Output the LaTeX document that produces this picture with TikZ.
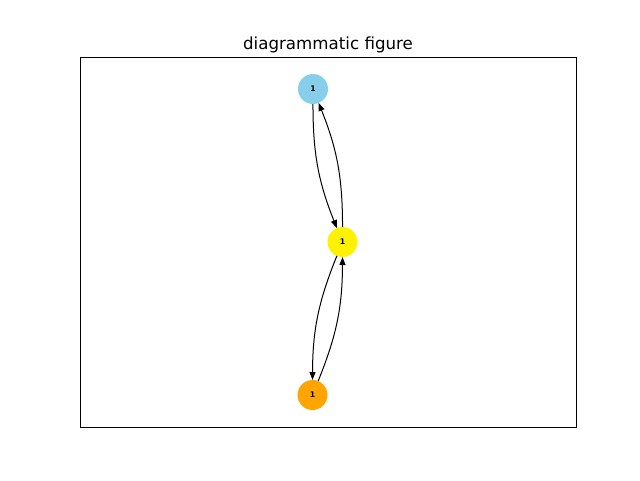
\documentclass[tikz,border=0pt]{standalone}
\usepackage{fontspec}
\setmainfont{DejaVu Sans}
\usepackage{xcolor}
\usetikzlibrary{arrows.meta}
\definecolor{skyblue}{RGB}{135,206,235}
\definecolor{mplorange}{RGB}{255,165,0}
\tikzset{
vertex/.style={
  circle,
  minimum size=22.5pt,
  inner sep=0pt,
  outer sep=0pt,
  font=\fontsize{5.8}{6}\selectfont\bfseries
},
link/.style={
  -{Triangle[length=6pt,width=4.5pt]},
  line width=0.75pt,
  bend right=11
},
}

\begin{document}
\begin{tikzpicture}[x=0.75pt,y=0.75pt]
\useasboundingbox (0,0) rectangle (640,480);
% the axes frame
\draw[line width=0.6pt] (80,52.8) rectangle (576,422.4);
\node[anchor=base,font=\fontsize{12.5}{14}\selectfont] (title) at (328,430.7) {diagrammatic figure};
% the nodes
\node[vertex,fill=skyblue] (top) at (313,391) {1};
\node[vertex,fill=yellow] (mid) at (342.5,238) {1};
\node[vertex,fill=mplorange] (bot) at (312.5,85) {1};
% the arrows
\draw[link] (top) to (mid);
\draw[link] (mid) to (top);
\draw[link] (mid) to (bot);
\draw[link] (bot) to (mid);
\end{tikzpicture}
\end{document}
